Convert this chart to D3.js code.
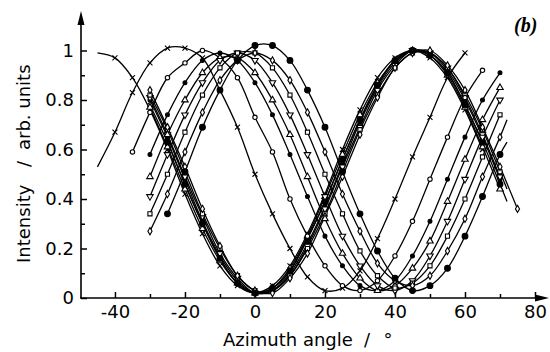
<!DOCTYPE html>
<html>
<head>
<meta charset="utf-8">
<script src="https://cdn.jsdelivr.net/npm/d3@7"></script>
<style>
  body { margin: 0; background: #fff; }
  text { font-family: "DejaVu Sans", sans-serif; fill: #000; }
</style>
</head>
<body>
<div id="chart"></div>
<script>
// ---- data ----
const markerTypes = ["times", "circle", "dot", "triangle", "triangleDown", "square", "diamond", "bigDot"];

const angM40to60 = [-40,-35,-30,-25,-20,-15,-10,-5,0,5,10,15,20,25,30,35,40,45,50,55,60];
const angM35to65 = [-35,-30,-25,-20,-15,-10,-5,0,5,10,15,20,25,30,35,40,45,50,55,60,65];
const angM30to70 = [-30,-25,-20,-15,-10,-5,0,5,10,15,20,25,30,35,40,45,50,55,60,65,70];
const angM25to70 = [-25,-20,-15,-10,-5,0,5,10,15,20,25,30,35,40,45,50,55,60,65,70];
const angM40to65 = [-40,-35,-30,-25,-20,-15,-10,-5,0,5,10,15,20,25,30,35,40,45,50,55,60,65];
const angM30to65 = [-30,-25,-20,-15,-10,-5,0,5,10,15,20,25,30,35,40,45,50,55,60,65];
const angM30to75 = [-30,-25,-20,-15,-10,-5,0,5,10,15,20,25,30,35,40,45,50,55,60,65,70,75];

// shifted (thin) curves
const shifted1 = [0.67,0.83,0.95,1.01,1.01,0.97,0.84,0.69,0.50,0.34,0.20,0.085,0.03,0.04,0.11,0.24,0.40,0.57,0.73,0.89,0.99];
const shifted2 = [0.59,0.75,0.89,0.95,1.00,0.97,0.89,0.73,0.59,0.40,0.25,0.13,0.05,0.03,0.07,0.17,0.31,0.48,0.65,0.81,0.92];
const shifted3 = [0.58,0.74,0.87,0.96,0.99,0.96,0.87,0.74,0.58,0.41,0.25,0.13,0.05,0.03,0.07,0.17,0.31,0.48,0.65,0.80,0.91];
const shifted4 = [0.49,0.66,0.80,0.91,0.97,0.97,0.91,0.80,0.66,0.49,0.32,0.18,0.08,0.03,0.05,0.12,0.23,0.39,0.56,0.72,0.85];
const shifted5 = [0.41,0.58,0.74,0.87,0.96,0.99,0.96,0.87,0.74,0.58,0.41,0.25,0.13,0.05,0.03,0.07,0.17,0.31,0.48,0.65,0.80];
const shifted6 = [0.34,0.50,0.67,0.82,0.93,0.99,0.99,0.93,0.82,0.67,0.50,0.34,0.19,0.09,0.04,0.06,0.13,0.25,0.40,0.57,0.74];
const shifted7 = [0.27,0.42,0.59,0.75,0.88,0.96,0.99,0.96,0.88,0.75,0.59,0.42,0.27,0.14,0.07,0.05,0.09,0.19,0.32,0.49,0.65];
const shifted8 = [0.34,0.51,0.69,0.84,0.96,1.02,1.02,0.96,0.84,0.69,0.51,0.34,0.19,0.08,0.03,0.05,0.12,0.25,0.41,0.58];
const shiftedAngles = [angM40to60, angM35to65, angM30to70, angM30to70, angM30to70, angM30to70, angM30to70, angM25to70];
const shiftedStart = [[-45,0.53],[-35,0.59],[-30,0.58],[-30,0.49],[-30,0.41],[-30,0.34],[-30,0.27],[-25,0.34]];
const shiftedEnd   = [[60,0.99],[65,0.92],[70,0.91],[70,0.85],[70,0.80],[70,0.74],[72,0.72],[72,0.63]];

// reference (bundle) curves
const ref1 = [0.97,0.89,0.76,0.60,0.42,0.26,0.13,0.05,0.02,0.05,0.13,0.26,0.42,0.60,0.76,0.89,0.97,1.00,0.97,0.89,0.76,0.60];
const ref2 = [0.78,0.63,0.46,0.30,0.16,0.06,0.02,0.04,0.11,0.24,0.39,0.56,0.72,0.86,0.96,1.00,0.98,0.91,0.78,0.63];
const ref3 = [0.80,0.65,0.48,0.31,0.17,0.07,0.02,0.03,0.10,0.22,0.37,0.54,0.71,0.85,0.95,1.00,0.99,0.92,0.80,0.65,0.48];
const ref4 = [0.77,0.61,0.44,0.28,0.15,0.06,0.02,0.04,0.12,0.25,0.41,0.58,0.74,0.87,0.96,1.00,0.98,0.90,0.77,0.61,0.44];
const ref5 = [0.81,0.66,0.49,0.33,0.18,0.08,0.02,0.03,0.09,0.21,0.36,0.53,0.69,0.84,0.94,1.00,0.99,0.93,0.81,0.66,0.49];
const ref6 = [0.82,0.68,0.51,0.34,0.20,0.09,0.03,0.03,0.09,0.20,0.34,0.51,0.68,0.82,0.93,0.99,0.99,0.93,0.82,0.68,0.51];
const ref7 = [0.84,0.69,0.53,0.36,0.21,0.09,0.03,0.02,0.08,0.18,0.33,0.49,0.66,0.81,0.93,0.99,1.00,0.94,0.84,0.69,0.53,0.36];
const ref8 = [0.63,0.46,0.30,0.16,0.06,0.02,0.04,0.11,0.24,0.39,0.56,0.72,0.86,0.96,1.00,0.98,0.91,0.78,0.63,0.46];
const refAngles = [angM40to65, angM30to65, angM30to70, angM30to70, angM30to70, angM30to70, angM30to75, angM25to70];
const refStart = [[-45,0.99],[-30,0.78],[-30,0.80],[-30,0.77],[-30,0.81],[-30,0.82],[-30,0.84],[-25,0.63]];
const refEnd   = [[65,0.60],[65,0.63],[70,0.48],[70,0.44],[70,0.49],[72,0.44],[75,0.36],[72,0.39]];

const xMajorTicks = [-40, -20, 0, 20, 40, 60, 80];
const xMinorTicks = [-30, -10, 10, 30, 50, 70];
const yMajorTicks = [0, 0.2, 0.4, 0.6, 0.8, 1];
const yTickLabels = ["0", "0.2", "0.4", "0.6", "0.8", "1"];
const yMinorTicks = [0.1, 0.3, 0.5, 0.7, 0.9];

// ---- chart ----
var width = 550, height = 352;

var svg = d3.select("#chart").append("svg")
  .attr("width", width).attr("height", height);

var x = d3.scaleLinear().domain([-49.7, 80]).range([81, 535]);
var y = d3.scaleLinear().domain([0, 1]).range([298, 50.5]);

function buildSeries(angles, values, start, end, marker) {
  var pts = angles.map((a, i) => [a, values[i]]);
  var line = pts.slice();
  if (start[0] < pts[0][0]) line.unshift(start);
  if (end[0] > pts[pts.length - 1][0]) line.push(end);
  return {pts: pts, line: line, marker: marker};
}

var shiftedVals = [shifted1, shifted2, shifted3, shifted4, shifted5, shifted6, shifted7, shifted8];
var refVals = [ref1, ref2, ref3, ref4, ref5, ref6, ref7, ref8];

var series = [];
refVals.forEach((v, i) => series.push(buildSeries(refAngles[i], v, refStart[i], refEnd[i], markerTypes[i])));
shiftedVals.forEach((v, i) => series.push(buildSeries(shiftedAngles[i], v, shiftedStart[i], shiftedEnd[i], markerTypes[i])));

var lineGen = d3.line()
  .x(d => x(d[0])).y(d => y(d[1]))
  .curve(d3.curveCatmullRom.alpha(0.5));

svg.append("g").selectAll("path")
  .data(series).enter().append("path")
  .attr("d", d => lineGen(d.line))
  .attr("fill", "none")
  .attr("stroke", "#000")
  .attr("stroke-width", 1.3);

// markers (small, like the scanned figure)
var symbolOf = {
  times:        {type: d3.symbolTimes,    size: 18, fill: "none", rot: 0},
  circle:       {type: d3.symbolCircle,   size: 15, fill: "#fff", rot: 0},
  dot:          {type: d3.symbolCircle,   size: 12, fill: "#000", rot: 0},
  triangle:     {type: d3.symbolTriangle, size: 18, fill: "#fff", rot: 0},
  triangleDown: {type: d3.symbolTriangle, size: 18, fill: "#fff", rot: 180},
  square:       {type: d3.symbolSquare,   size: 17, fill: "#fff", rot: 0},
  diamond:      {type: d3.symbolDiamond,  size: 15, fill: "#fff", rot: 0},
  bigDot:       {type: d3.symbolCircle,   size: 26, fill: "#000", rot: 0}
};

var mg = svg.append("g");
series.forEach(s => {
  var sym = symbolOf[s.marker];
  mg.selectAll(null).data(s.pts).enter().append("path")
    .attr("d", d3.symbol().type(sym.type).size(sym.size))
    .attr("transform", d => "translate(" + x(d[0]) + "," + y(d[1]) + ") rotate(" + sym.rot + ")")
    .attr("fill", sym.fill)
    .attr("stroke", "#000")
    .attr("stroke-width", 1.1);
});

// axes
svg.append("g").attr("transform", "translate(81,0)")
  .call(d3.axisLeft(y).tickValues(yMajorTicks).tickSize(-6).tickSizeOuter(0).tickPadding(7)
    .tickFormat((d, i) => yTickLabels[i]));
svg.append("g").attr("transform", "translate(81,0)")
  .call(d3.axisLeft(y).tickValues(yMinorTicks).tickSize(-4).tickSizeOuter(0).tickFormat(""));

svg.append("g").attr("transform", "translate(0,298)")
  .call(d3.axisBottom(x).tickValues(xMajorTicks).tickSize(-6).tickSizeOuter(0).tickPadding(7)
    .tickFormat(d => String(d)));
svg.append("g").attr("transform", "translate(0,298)")
  .call(d3.axisBottom(x).tickValues(xMinorTicks).tickSize(-4).tickSizeOuter(0).tickFormat(""));

svg.selectAll(".domain").remove();
svg.selectAll(".tick line").attr("stroke", "#000").attr("stroke-width", 1.5);
svg.selectAll(".tick text").style("font-size", "18px").style("font-family", "'DejaVu Sans', sans-serif");

// axis lines with arrow heads
svg.append("line").attr("x1", 81).attr("y1", 298).attr("x2", 81).attr("y2", 20)
  .attr("stroke", "#000").attr("stroke-width", 1.6);
svg.append("path").attr("d", "M81,11 L77.5,25 L84.5,25 Z").attr("fill", "#000");
svg.append("line").attr("x1", 80).attr("y1", 298).attr("x2", 540).attr("y2", 298)
  .attr("stroke", "#000").attr("stroke-width", 1.6);
svg.append("path").attr("d", "M549,298 L535,294.5 L535,301.5 Z").attr("fill", "#000");

// titles
svg.append("text").attr("x", 223).attr("y", 346).text("Azimuth angle").style("font-size", "18px");
svg.append("text").attr("x", 367).attr("y", 346).attr("text-anchor", "middle").text("/").style("font-size", "18px");
svg.append("text").attr("x", 388).attr("y", 346).attr("text-anchor", "middle").text("°").style("font-size", "18px");

svg.append("text").attr("transform", "translate(30,263) rotate(-90)").text("Intensity").style("font-size", "18px");
svg.append("text").attr("transform", "translate(30,164) rotate(-90)").attr("text-anchor", "middle").text("/").style("font-size", "18px");
svg.append("text").attr("transform", "translate(30,150) rotate(-90)").text("arb. units").style("font-size", "18px");

svg.append("text").attr("x", 514).attr("y", 32).text("(b)")
  .style("font-family", "'Liberation Serif', serif").style("font-weight", "bold")
  .style("font-style", "italic").style("font-size", "20px");
</script>
</body>
</html>
